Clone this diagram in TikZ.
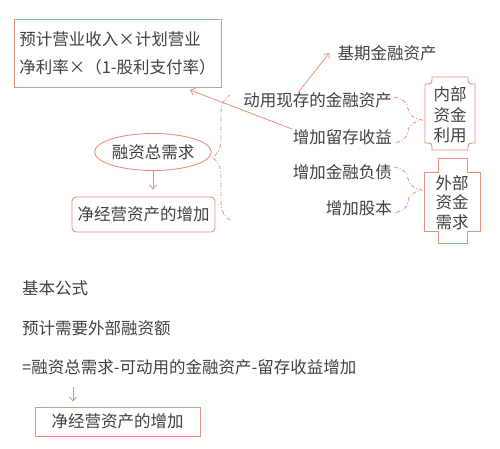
\documentclass[tikz,border=0pt]{standalone}
\usepackage{fontspec}
\setmainfont{Noto Sans CJK SC}
\usepackage{xcolor}
\usetikzlibrary{shapes.geometric,decorations.pathreplacing,arrows.meta}

\begin{document}
\begin{tikzpicture}[x=1pt,y=-1pt,
  txt/.style={text=ink,font=\fontsize{16.5}{20.5}\selectfont,inner sep=0pt},
  salmonbox/.style={draw=salmon,line width=0.9pt},
  link/.style={draw=salmon,line width=0.8pt,-{Straight Barb[length=4pt,width=7pt]}},
  bracket/.style={draw=salmon,line width=0.8pt,dash pattern=on 4pt off 2pt on 1pt off 2pt,
    decorate,decoration={brace,amplitude=#1}}]
\definecolor{salmon}{HTML}{E3927C}
\definecolor{ink}{HTML}{404040}
\useasboundingbox (0,0) rectangle (500,449);

% upper part
\node[txt,salmonbox,minimum width=207pt,minimum height=68pt,align=left,
  font=\fontsize{16.5}{28}\selectfont] (forecast) at (117.5,53) {预计营业收入×计划营业\\净利率×（1-股利支付率）};
\node[txt] (base) at (387,53) {基期金融资产};
\node[txt,anchor=east] (use) at (392,100) {动用现存的金融资产};
\node[txt,anchor=east] (retain) at (392,137) {增加留存收益};
\node[txt,anchor=east] (debt) at (392,172) {增加金融负债};
\node[txt,anchor=east] (equity) at (392,208) {增加股本};
\node[txt,ellipse,salmonbox,minimum width=107pt,minimum height=37pt] (total) at (153,152) {融资总需求};
\node[txt,salmonbox,rounded corners=4pt,minimum width=143pt,minimum height=35pt] (growth) at (143.5,214.5) {净经营资产的增加};
\node[txt,align=center] (inner) at (450,115) {内部\\资金\\利用};
\node[txt,align=center,font=\fontsize{16.5}{19.5}\selectfont] (outer) at (452,202.5) {外部\\资金\\需求};

\draw[salmonbox] (432,77) -- (468,77) .. controls (468,84) .. (475,84) -- (475,143)
  .. controls (468,143) .. (468,150) -- (432,150) .. controls (432,143) .. (425,143)
  -- (425,84) .. controls (432,84) .. (432,77) -- cycle;
\draw[salmonbox] (438,158) -- (467,158) -- (467,172) -- (480,172) -- (480,231) -- (467,231)
  -- (467,243) -- (438,243) -- (438,231) -- (424,231) -- (424,172) -- (438,172) -- cycle;

\draw[bracket=18] (230,220) -- (230,95);
\draw[bracket=28] (394,97) -- (394,143);
\draw[bracket=28] (394,167) -- (394,213);

\coordinate (corner) at (190,90);
\draw[link] (retain.north west) -- (corner);
\draw[link] ([xshift=-19pt]use.north) -- ([xshift=-8pt]base.west);
\draw[link,shorten >=7pt] (total) -- (total |- growth.north);

% basic formula
\foreach \name/\ypos/\words in {basic/288/基本公式,need/328/预计需要外部融资额,formula/367/=融资总需求-可动用的金融资产-留存收益增加}
  {\node[txt,anchor=west] (\name) at (22,\ypos) {\words};}
\node[txt,salmonbox,minimum width=165pt,minimum height=29pt] (growthb) at (117.5,421.5) {净经营资产的增加};
\coordinate (down) at (73,387);
\draw[link,shorten >=5pt] (down) -- (down |- growthb.north);
\end{tikzpicture}
\end{document}
